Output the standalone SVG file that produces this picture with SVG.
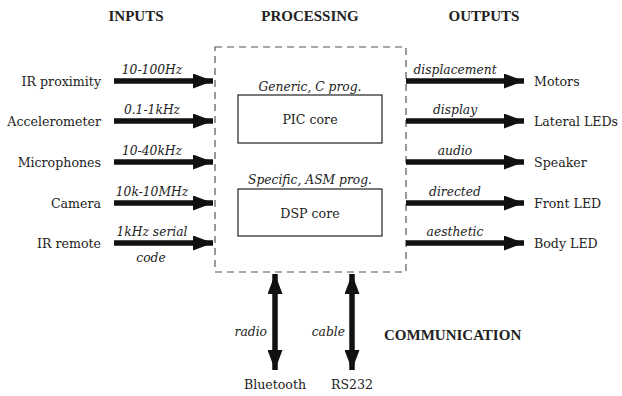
<svg xmlns="http://www.w3.org/2000/svg" width="622" height="396" viewBox="0 0 622 396">
<style>
text{font-family:'DejaVu Serif',serif;font-size:12.6px;fill:#222}
.h{font-family:'Liberation Serif','DejaVu Serif',serif;font-size:15px;font-weight:bold}
.i{font-style:italic;font-size:12.3px}
.m{text-anchor:middle}
.e{text-anchor:end}
.arr{stroke:#111;stroke-width:5.5;fill:none}
.box{fill:#fff;stroke:#222;stroke-width:1.2}
</style>
<defs>
<marker id="ah" viewBox="0 0 20 15" refX="20" refY="7.5" markerWidth="20" markerHeight="15" markerUnits="userSpaceOnUse" orient="auto-start-reverse">
<path d="M0,0 L20,7.5 L0,15 Z" fill="#111"/>
</marker>
</defs>
<g id="headers">
<text class="h m" x="136" y="21">INPUTS</text>
<text class="h m" x="310" y="21">PROCESSING</text>
<text class="h m" x="484" y="21">OUTPUTS</text>
<text class="h" x="384" y="340">COMMUNICATION</text>
</g>
<g id="processing">
<rect x="215" y="47" width="191" height="225" fill="none" stroke="#555" stroke-width="1.2" stroke-dasharray="7,5"/>
</g>
<g id="pic">
<text class="i m" x="310" y="91">Generic, C prog.</text>
<rect class="box" x="238" y="95" width="144" height="48"/>
<text class="m" x="310" y="124">PIC core</text>
</g>
<g id="dsp">
<text class="i m" x="310" y="184">Specific, ASM prog.</text>
<rect class="box" x="238" y="189" width="144" height="47"/>
<text class="m" x="310" y="218">DSP core</text>
</g>
<g id="inputs">
<text class="e" x="101" y="86">IR proximity</text>
<text class="e" x="101" y="126">Accelerometer</text>
<text class="e" x="101" y="167">Microphones</text>
<text class="e" x="101" y="208">Camera</text>
<text class="e" x="101" y="248">IR remote</text>
</g>
<g id="outputs">
<text x="534" y="86">Motors</text>
<text x="534" y="126">Lateral LEDs</text>
<text x="534" y="167">Speaker</text>
<text x="534" y="208">Front LED</text>
<text x="534" y="248">Body LED</text>
</g>
<g id="comm">
<text class="m" x="275" y="389">Bluetooth</text>
<text class="m" x="352" y="389">RS232</text>
</g>
<g id="connectors">
<line class="arr" x1="114" y1="81" x2="213" y2="81" marker-end="url(#ah)"/>
<line class="arr" x1="114" y1="121" x2="213" y2="121" marker-end="url(#ah)"/>
<line class="arr" x1="114" y1="162" x2="213" y2="162" marker-end="url(#ah)"/>
<line class="arr" x1="114" y1="203" x2="213" y2="203" marker-end="url(#ah)"/>
<line class="arr" x1="114" y1="243" x2="213" y2="243" marker-end="url(#ah)"/>
<line class="arr" x1="406" y1="81" x2="524" y2="81" marker-end="url(#ah)"/>
<line class="arr" x1="406" y1="121" x2="524" y2="121" marker-end="url(#ah)"/>
<line class="arr" x1="406" y1="162" x2="524" y2="162" marker-end="url(#ah)"/>
<line class="arr" x1="406" y1="203" x2="524" y2="203" marker-end="url(#ah)"/>
<line class="arr" x1="406" y1="243" x2="524" y2="243" marker-end="url(#ah)"/>
<line class="arr" x1="275" y1="274" x2="275" y2="370" marker-start="url(#ah)" marker-end="url(#ah)"/>
<line class="arr" x1="352" y1="274" x2="352" y2="370" marker-start="url(#ah)" marker-end="url(#ah)"/>
<text class="i m" x="152" y="74">10-100Hz</text>
<text class="i m" x="152" y="114">0.1-1kHz</text>
<text class="i m" x="152" y="155">10-40kHz</text>
<text class="i m" x="152" y="196">10k-10MHz</text>
<text class="i m" x="152" y="236">1kHz serial</text>
<text class="i m" x="151" y="262">code</text>
<text class="i m" x="455" y="74">displacement</text>
<text class="i m" x="455" y="114">display</text>
<text class="i m" x="455" y="155">audio</text>
<text class="i m" x="455" y="196">directed</text>
<text class="i m" x="455" y="236">aesthetic</text>
<text class="i e" x="267" y="336">radio</text>
<text class="i e" x="345" y="336">cable</text>
</g>
</svg>
